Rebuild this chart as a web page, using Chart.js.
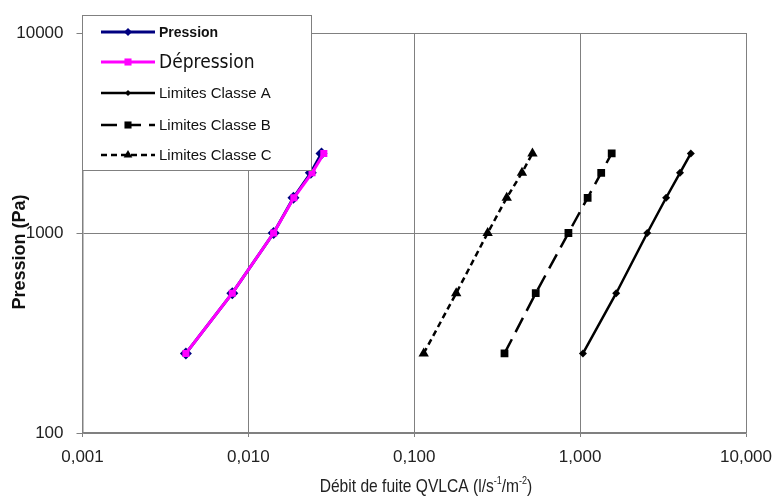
<!DOCTYPE html>
<html>
<head>
<meta charset="utf-8">
<script src="https://cdn.jsdelivr.net/npm/chart.js@4.4.1/dist/chart.umd.min.js"></script>
<style>
  html, body { margin: 0; padding: 0; background: #fff; }
  #wrap { width: 777px; height: 501px; }
</style>
</head>
<body>
<div id="wrap"><canvas id="chart" width="777" height="501"></canvas></div>
<script>
// Pressure steps (Pa) shared by every series
const pressures = [250, 500, 1000, 1500, 2000, 2500];

// Leak flow values (l/s/m²)
const pressionFlow = [0.0042, 0.0080, 0.0142, 0.0187, 0.0238, 0.0276];
const depressionFlow = [0.0042, 0.0080, 0.0142, 0.0188, 0.0242, 0.0285];
const classAFlow = [1.04, 1.65, 2.54, 3.30, 4.00, 4.65];
const classBFlow = [0.35, 0.54, 0.85, 1.11, 1.34, 1.55];
const classCFlow = [0.114, 0.179, 0.277, 0.361, 0.446, 0.516];

// Tick labels
const xTicks = [0.001, 0.01, 0.1, 1, 10];
const xTickLabels = ["0,001", "0,010", "0,100", "1,000", "10,000"];
const yTicks = [100, 1000, 10000];
const yTickLabels = ["100", "1000", "10000"];

const legendNames = ["Pression", "Dépression", "Limites Classe A", "Limites Classe B", "Limites Classe C"];

const narrow = "'Liberation Sans Narrow', 'Arial Narrow', 'DejaVu Sans Condensed', 'Liberation Sans', sans-serif";
const arial = "'Liberation Sans', Arial, sans-serif";

function toPoints(flows) {
  return flows.map((f, i) => ({ x: f, y: pressures[i] }));
}

const datasets = [
  {
    label: legendNames[0], data: toPoints(pressionFlow), order: 2,
    borderColor: "#000080", backgroundColor: "#000080", borderWidth: 3,
    pointStyle: "rectRot", pointRadius: 6, pointBorderWidth: 0, legendRadius: 4
  },
  {
    label: legendNames[1], data: toPoints(depressionFlow), order: 1,
    borderColor: "#ff00ff", backgroundColor: "#ff00ff", borderWidth: 3,
    pointStyle: "rect", pointRadius: 5, pointBorderWidth: 0, legendRadius: 5
  },
  {
    label: legendNames[2], data: toPoints(classAFlow), order: 0,
    borderColor: "#000", backgroundColor: "#000", borderWidth: 2.5,
    pointStyle: "rectRot", pointRadius: 4, pointBorderWidth: 0, legendRadius: 3
  },
  {
    label: legendNames[3], data: toPoints(classBFlow), order: 0,
    borderColor: "#000", backgroundColor: "#000", borderWidth: 2.5, borderDash: [16, 8],
    pointStyle: "rect", pointRadius: 5.5, pointBorderWidth: 0, legendRadius: 5
  },
  {
    label: legendNames[4], data: toPoints(classCFlow), order: 0,
    borderColor: "#000", backgroundColor: "#000", borderWidth: 2.5, borderDash: [6, 4],
    pointStyle: "triangle", pointRadius: 6, pointBorderWidth: 0, legendRadius: 5
  }
];

// Legend box and axis titles drawn by hand, like the original
const boxLegend = {
  id: "boxLegend",
  afterDraw(chart) {
    const ctx = chart.ctx;
    const x0 = 82.5, y0 = 15.5, w = 229, h = 155;
    ctx.save();
    ctx.fillStyle = "#fff";
    ctx.fillRect(x0, y0, w, h);
    ctx.strokeStyle = "#808080";
    ctx.lineWidth = 1;
    ctx.strokeRect(x0, y0, w, h);
    const rows = [32, 62, 93, 125, 155];
    const fonts = ["bold 14px " + arial, "19px " + narrow, "15px " + arial, "15px " + arial, "15px " + arial];
    const lx0 = 101, lx1 = 155;
    datasets.forEach((ds, i) => {
      const y = rows[i];
      ctx.strokeStyle = ds.borderColor;
      ctx.lineWidth = ds.borderWidth;
      ctx.setLineDash(ds.borderDash || []);
      ctx.beginPath();
      ctx.moveTo(lx0, y);
      ctx.lineTo(lx1, y);
      ctx.stroke();
      ctx.setLineDash([]);
      ctx.fillStyle = ds.backgroundColor;
      Chart.helpers.drawPoint(ctx, {
        pointStyle: ds.pointStyle, radius: ds.legendRadius, borderWidth: 0, rotation: 0
      }, (lx0 + lx1) / 2, y);
      ctx.fillStyle = "#111";
      ctx.font = fonts[i];
      ctx.textBaseline = "middle";
      ctx.textAlign = "left";
      ctx.fillText(ds.label, 159, y + 1);
    });

    // y title
    ctx.save();
    ctx.translate(20, 252);
    ctx.rotate(-Math.PI / 2);
    ctx.font = "bold 18px " + arial;
    ctx.fillStyle = "#111";
    ctx.textAlign = "center";
    ctx.textBaseline = "middle";
    ctx.fillText("Pression (Pa)", 0, 0);
    ctx.restore();

    // x title with superscripts, condensed
    const parts = [["Débit de fuite QVLCA (l/s", 0], ["-1", 1], ["/m", 0], ["-2", 1], [")", 0]];
    ctx.save();
    ctx.translate(426, 487);
    ctx.scale(0.82, 1);
    ctx.fillStyle = "#222";
    ctx.textBaseline = "middle";
    ctx.textAlign = "left";
    const setF = sup => { ctx.font = (sup ? "11px " : "19px ") + arial; };
    let total = 0;
    parts.forEach(p => { setF(p[1]); total += ctx.measureText(p[0]).width; });
    let cx = -total / 2;
    parts.forEach(p => {
      setF(p[1]);
      ctx.fillText(p[0], cx, p[1] ? -6 : 0);
      cx += ctx.measureText(p[0]).width;
    });
    ctx.restore();
    ctx.restore();
  }
};

new Chart(document.getElementById("chart"), {
  type: "scatter",
  data: { datasets: datasets.map(d => Object.assign({ showLine: true }, d)) },
  options: {
    responsive: false,
    animation: false,
    layout: { padding: { left: 0, top: 33, right: 31, bottom: 0 } },
    plugins: { legend: { display: false }, tooltip: { enabled: false } },
    scales: {
      x: {
        type: "logarithmic", min: 0.001, max: 10,
        afterBuildTicks: s => { s.ticks = xTicks.map(v => ({ value: v })); },
        afterFit: s => { s.height = 68; s.paddingLeft = 0; s.paddingRight = 0; },
        grid: { color: "#808080", lineWidth: 1, tickLength: 4, drawTicks: true },
        border: { color: "#808080", width: 1.5 },
        ticks: {
          autoSkip: false, maxRotation: 0, padding: 10, color: "#222",
          font: { family: arial, size: 17 },
          callback: (v) => xTickLabels[xTicks.indexOf(v)]
        }
      },
      y: {
        type: "logarithmic", min: 100, max: 10000,
        afterBuildTicks: s => { s.ticks = yTicks.map(v => ({ value: v })); },
        afterFit: s => { s.width = 82.5; s.paddingTop = 0; s.paddingBottom = 0; },
        grid: { color: "#808080", lineWidth: 1, tickLength: 6, drawTicks: true },
        border: { color: "#808080", width: 1.5 },
        ticks: {
          autoSkip: false, padding: 13, color: "#222",
          font: { family: arial, size: 17 },
          callback: (v) => yTickLabels[yTicks.indexOf(v)]
        }
      }
    }
  },
  plugins: [boxLegend]
});
</script>
</body>
</html>
